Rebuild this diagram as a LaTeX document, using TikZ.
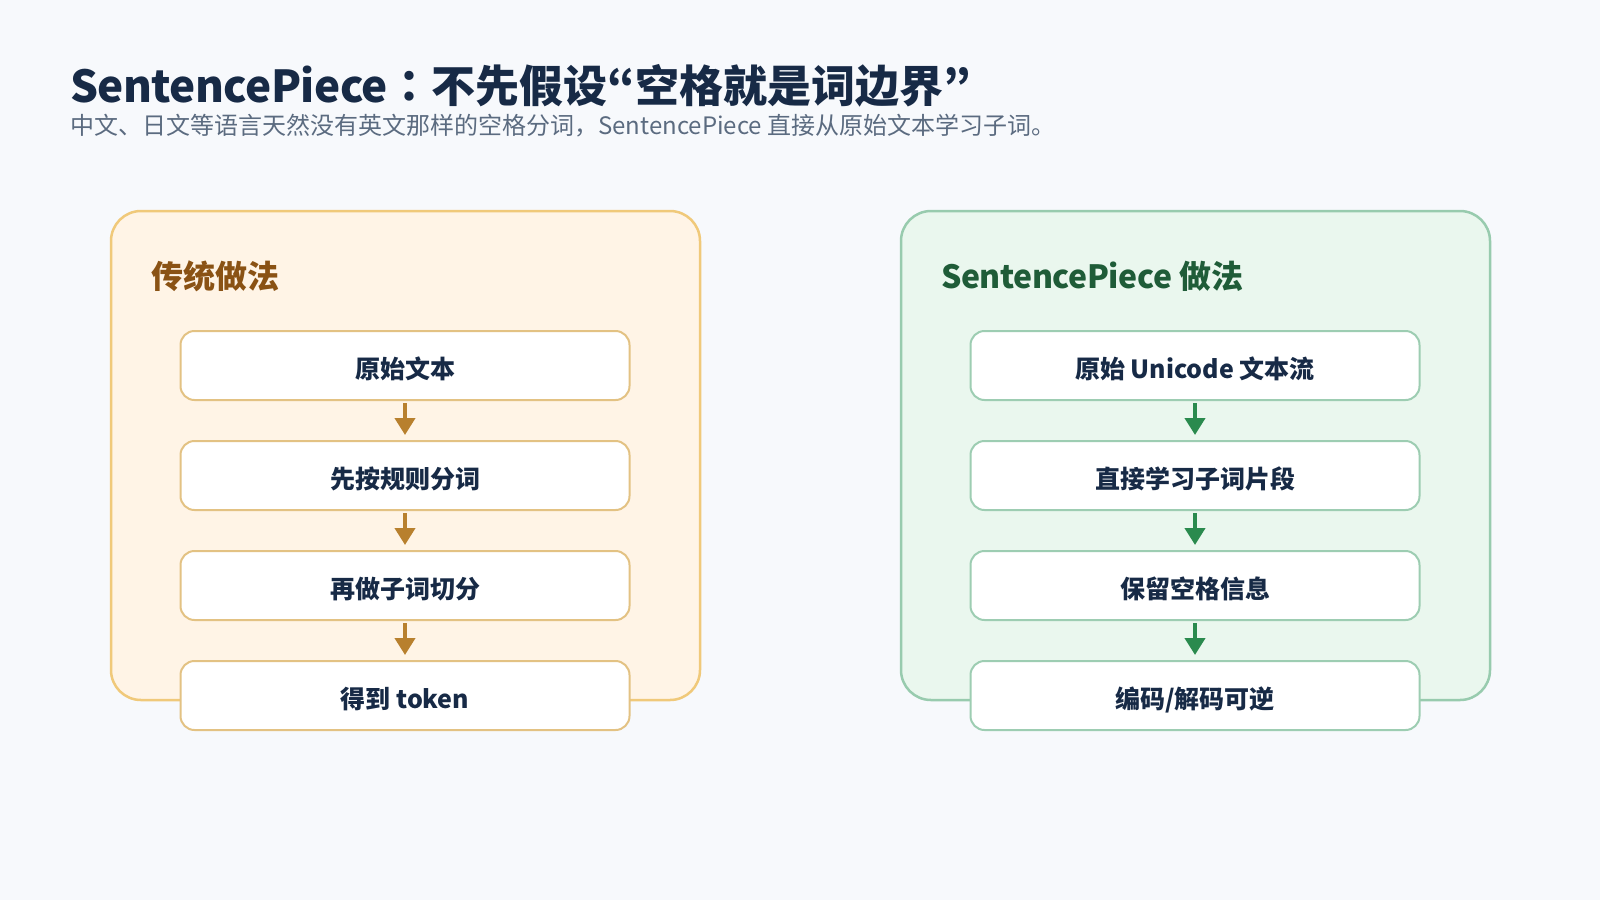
\documentclass[tikz,border=0pt]{standalone}
\usepackage{fontspec}
\setmainfont{Noto Sans CJK SC}
\newfontfamily\jpfont{Noto Sans CJK JP}
\newcommand\tightlat[1]{{\addfontfeatures{LetterSpace=-1.3}#1}}
\usetikzlibrary{arrows.meta}
\definecolor{bg}{HTML}{F7F9FC}
\definecolor{titlec}{HTML}{172A46}
\definecolor{subc}{HTML}{5B6B80}
\definecolor{lfill}{HTML}{FFF4E6}
\definecolor{ldraw}{HTML}{F0C97A}
\definecolor{lbox}{HTML}{E3C283}
\definecolor{larrow}{HTML}{B8802E}
\definecolor{lhead}{HTML}{8A5214}
\definecolor{rfill}{HTML}{EAF7EE}
\definecolor{rdraw}{HTML}{98CBAE}
\definecolor{rbox}{HTML}{9DCDB2}
\definecolor{rarrow}{HTML}{2A8A4E}
\definecolor{rhead}{HTML}{1F5C38}
\tikzset{
  panel/.style={line width=2.5pt, rounded corners=30pt},
  stepbox/.style={draw, fill=white, line width=2pt, rounded corners=14pt,
    minimum width=449pt, minimum height=69pt, inner sep=0pt,
    text height=25pt, text depth=0pt, text=titlec,
    font=\fontsize{25pt}{29pt}\selectfont\bfseries},
  lstep/.style={stepbox, draw=lbox},
  rstep/.style={stepbox, draw=rbox},
  flow/.style={line width=4pt, -{Triangle[width=20pt,length=17pt]}},
  head/.style={anchor=base west, inner sep=0pt, font=\fontsize{32pt}{36pt}\selectfont\bfseries},
}
\begin{document}
\begin{tikzpicture}[x=1pt,y=-1pt]
\useasboundingbox[fill=bg] (0,0) rectangle (1600,900);
\node[anchor=base west, inner sep=0pt, text=titlec, font=\fontsize{44pt}{50pt}\selectfont\bfseries] (title) at (70,102) {\tightlat{SentencePiece}{\jpfont ：}不先假设{\jpfont “}空格就是词边界{\jpfont ”}};
\node[anchor=base west, inner sep=0pt, text=subc, font=\fontsize{24pt}{28pt}\selectfont] (sub) at (70,134) {中文、日文等语言天然没有英文那样的空格分词，SentencePiece 直接从原始文本学习子词。};

\draw[panel, fill=lfill, draw=ldraw] (111,211) rectangle (700,700);
\draw[panel, fill=rfill, draw=rdraw] (901,211) rectangle (1490,700);

\node[head, text=lhead] (lh) at (151,288) {传统做法};
\node[head, text=rhead] (rh) at (941,288) {\tightlat{SentencePiece} 做法};

\node[lstep] (l1) at (405,365.5) {原始文本};
\node[lstep] (l2) at (405,475.5) {先按规则分词};
\node[lstep] (l3) at (405,585.5) {再做子词切分};
\node[lstep] (l4) at (405,695.5) {得到 token};

\node[rstep] (r1) at (1195,365.5) {原始 Unicode 文本流};
\node[rstep] (r2) at (1195,475.5) {直接学习子词片段};
\node[rstep] (r3) at (1195,585.5) {保留空格信息};
\node[rstep] (r4) at (1195,695.5) {编码/解码可逆};

\foreach \a/\b in {l1/l2,l2/l3,l3/l4}
  \draw[flow, larrow] ([yshift=-2pt]\a.south) -- ([yshift=5pt]\b.north);
\foreach \a/\b in {r1/r2,r2/r3,r3/r4}
  \draw[flow, rarrow] ([yshift=-2pt]\a.south) -- ([yshift=5pt]\b.north);
\end{tikzpicture}
\end{document}
